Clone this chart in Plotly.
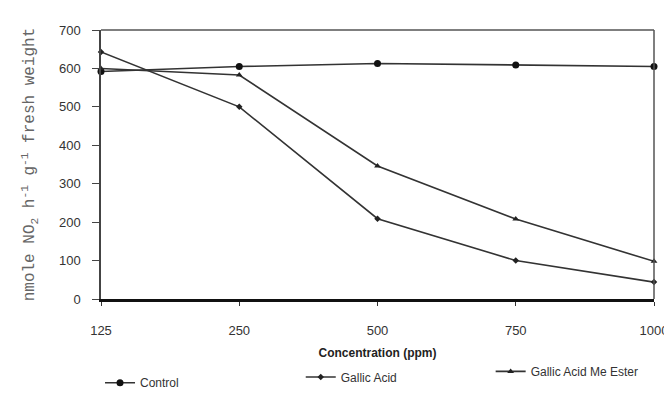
import plotly.graph_objects as go

concentration = ["125", "250", "500", "750", "1000"]
control = [592, 605, 613, 609, 605]
gallic_acid = [643, 500, 209, 100, 44]
gallic_me_ester = [600, 583, 346, 208, 98]

line_col = "#333333"
font_sans = "Liberation Sans, Arial, sans-serif"

fig = go.Figure()
fig.add_trace(go.Scatter(
    x=concentration, y=control, name="Control", mode="lines+markers",
    line=dict(color=line_col, width=1.6),
    marker=dict(symbol="circle", size=7, color="#111111"),
    cliponaxis=False, legend="legend"))
fig.add_trace(go.Scatter(
    x=concentration, y=gallic_acid, name="Gallic Acid", mode="lines+markers",
    line=dict(color=line_col, width=1.6),
    marker=dict(symbol="diamond", size=5, color="#222222"),
    cliponaxis=False, legend="legend2"))
fig.add_trace(go.Scatter(
    x=concentration, y=gallic_me_ester, name="Gallic Acid Me Ester", mode="lines+markers",
    line=dict(color=line_col, width=1.6),
    marker=dict(symbol="triangle-up", size=6, color="#222222"),
    cliponaxis=False, legend="legend3"))

plot_h = 286.0
def ly(py):
    return (308 - py) / plot_h
def lx(px):
    return (px - 93) / 562.0

legend_common = dict(orientation="h", yanchor="middle", xanchor="left",
                     bgcolor="rgba(0,0,0,0)", borderwidth=0,
                     font=dict(family=font_sans, size=12, color="#333333"))

fig.update_layout(
    width=672, height=401,
    margin=dict(l=93, r=17, t=22, b=93),
    paper_bgcolor="white", plot_bgcolor="white",
    showlegend=True,
    legend=dict(x=lx(92), y=ly(397), **legend_common),
    legend2=dict(x=lx(296), y=ly(391), **legend_common),
    legend3=dict(x=lx(489), y=ly(385), **legend_common),
    xaxis=dict(
        type="category", range=[0, 4],
        showline=True, linecolor="#111111", linewidth=2.5,
        mirror=False, showgrid=False, zeroline=False,
        ticks="outside", ticklen=4, tickcolor="#333333", tickwidth=1,
        ticklabelstandoff=14,
        tickfont=dict(family=font_sans, size=13, color="#333333"),
        title=dict(text="<b>Concentration (ppm)</b>",
                   font=dict(family=font_sans, size=12, color="#222222"),
                   standoff=12),
    ),
    yaxis=dict(
        range=[0, 700], dtick=100,
        showline=True, linecolor="#444444", linewidth=1.5,
        showgrid=False, zeroline=False,
        ticks="outside", ticklen=7, tickcolor="#444444", tickwidth=1,
        ticklabelstandoff=9,
        tickfont=dict(family=font_sans, size=13, color="#333333"),
        title=dict(text="nmole NO<sub>2</sub> h<sup>-1</sup> g<sup>-1</sup> fresh weight",
                   font=dict(family="Liberation Mono, Courier New, monospace", size=16, color="#666666"),
                   standoff=20),
    ),
)

# top and right frame lines (box)
fig.add_shape(type="line", xref="paper", yref="paper", x0=0, x1=1, y0=1, y1=1,
              line=dict(color="#555555", width=1.5))
fig.add_shape(type="line", xref="paper", yref="paper", x0=1, x1=1, y0=0, y1=1,
              line=dict(color="#555555", width=1.5))

fig.write_html("out.html")
